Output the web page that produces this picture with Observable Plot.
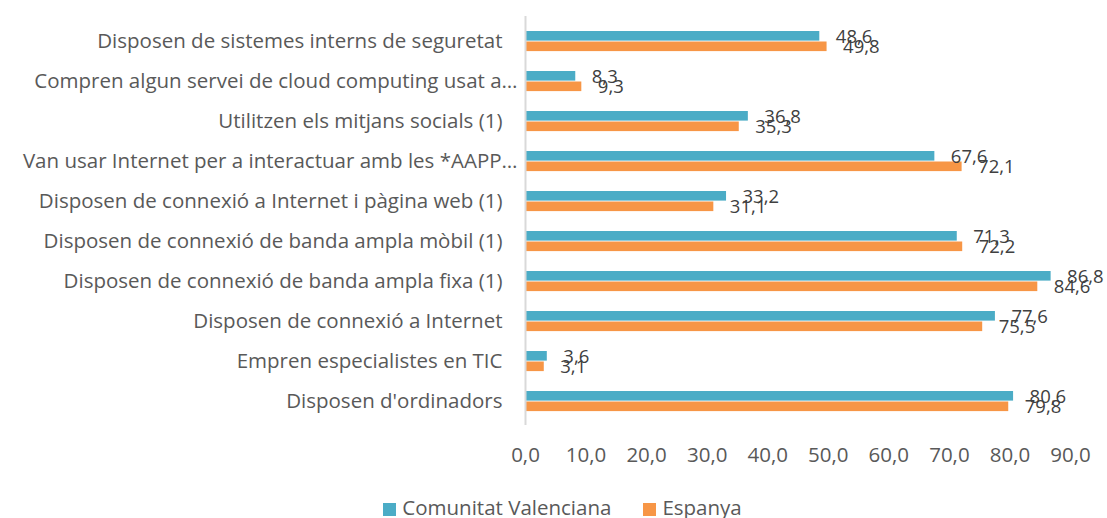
<!DOCTYPE html>
<html>
<head>
<meta charset="utf-8">
<script src="https://cdn.jsdelivr.net/npm/d3@7"></script>
<script src="https://cdn.jsdelivr.net/npm/@observablehq/plot@0.6"></script>
<style>
  body { margin: 0; background: #fff; font-family: "Open Sans", sans-serif; }
  #legend { display: flex; justify-content: center; gap: 32px; font-size: 20.5px; color: #595959; height: 36px; margin-top: 9px; align-items: center; margin-left: 18px; line-height: 1; }
  #legend span.sw { display: inline-block; width: 13px; height: 13px; margin-right: 6px; vertical-align: -1px; }
</style>
</head>
<body>
<div id="chart"></div>
<div id="legend"></div>
<script>
const categories = [
  "Disposen de sistemes interns de seguretat",
  "Compren algun servei de cloud computing usat a…",
  "Utilitzen els mitjans socials (1)",
  "Van usar Internet per a interactuar amb les *AAPP…",
  "Disposen de connexió a Internet i pàgina web (1)",
  "Disposen de connexió de banda ampla mòbil (1)",
  "Disposen de connexió de banda ampla fixa (1)",
  "Disposen de connexió a Internet",
  "Empren especialistes en TIC",
  "Disposen d'ordinadors"
];
const seriesNames = ["Comunitat Valenciana", "Espanya"];
const valencia = [48.6, 8.3, 36.8, 67.6, 33.2, 71.3, 86.8, 77.6, 3.6, 80.6];
const espanya  = [49.8, 9.3, 35.3, 72.1, 31.1, 72.2, 84.6, 75.5, 3.1, 79.8];
const xTicks = [0, 10, 20, 30, 40, 50, 60, 70, 80, 90];
const colors = ["#4BACC6", "#F79646"];

const fmt = v => d3.format(".1f")(v).replace(".", ",");
const dv = categories.map((c, i) => ({cat: c, v: valencia[i]}));
const de = categories.map((c, i) => ({cat: c, v: espanya[i]}));
const truncated = categories.filter(c => c.endsWith("…"));
const full = categories.filter(c => !c.endsWith("…"));

const chart = Plot.plot({
  width: 1107,
  height: 480,
  marginLeft: 525,
  marginRight: 37,
  marginTop: 16,
  marginBottom: 55,
  style: {fontFamily: "Open Sans, sans-serif", fontSize: "20.5px", color: "#595959", overflow: "visible"},
  x: {domain: [0, 90], label: null},
  y: {domain: categories, padding: 0, label: null},
  marks: [
    Plot.axisX({ticks: xTicks, tickFormat: fmt, tickSize: 0, tickPadding: 22, label: null}),
    Plot.axisY({ticks: full, tickSize: 0, tickPadding: 23, label: null}),
    Plot.axisY({ticks: truncated, tickSize: 0, tickPadding: 8, label: null}),
    Plot.barX(dv, {x: "v", y: "cat", fill: colors[0], insetTop: 10, insetBottom: 20.4}),
    Plot.barX(de, {x: "v", y: "cat", fill: colors[1], insetTop: 20.5, insetBottom: 9.9}),
    Plot.ruleX([0], {stroke: "#d9d9d9", strokeWidth: 2}),
    Plot.text(dv, {x: "v", y: "cat", text: d => fmt(d.v), textAnchor: "start", dx: 16, dy: -4, fill: "#404040", fontSize: 18.5}),
    Plot.text(de, {x: "v", y: "cat", text: d => fmt(d.v), textAnchor: "start", dx: 16, dy: 6, fill: "#404040", fontSize: 18.5})
  ]
});
document.getElementById("chart").appendChild(chart);

const legend = document.getElementById("legend");
seriesNames.forEach((n, i) => {
  const d = document.createElement("div");
  d.innerHTML = `<span class="sw" style="background:${colors[i]}"></span>${n}`;
  legend.appendChild(d);
});
</script>
</body>
</html>
